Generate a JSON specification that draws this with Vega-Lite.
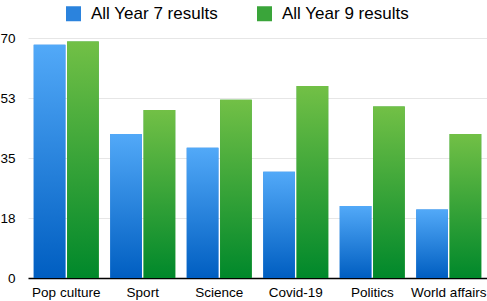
{
  "$schema": "https://vega.github.io/schema/vega-lite/v6.json",
  "autosize": {"type": "none"},
  "width": 459,
  "height": 240,
  "padding": {"left": 28, "top": 38, "right": 0, "bottom": 23},
  "background": "white",
  "config": {
    "view": {"stroke": null},
    "font": "Liberation Sans"
  },
  "data": {
    "values": [
      {"category": "Pop culture", "series": "All Year 7 results", "value": 68},
      {"category": "Pop culture", "series": "All Year 9 results", "value": 69},
      {"category": "Sport", "series": "All Year 7 results", "value": 42},
      {"category": "Sport", "series": "All Year 9 results", "value": 49},
      {"category": "Science", "series": "All Year 7 results", "value": 38},
      {"category": "Science", "series": "All Year 9 results", "value": 52},
      {"category": "Covid-19", "series": "All Year 7 results", "value": 31},
      {"category": "Covid-19", "series": "All Year 9 results", "value": 56},
      {"category": "Politics", "series": "All Year 7 results", "value": 21},
      {"category": "Politics", "series": "All Year 9 results", "value": 50},
      {"category": "World affairs", "series": "All Year 7 results", "value": 20},
      {"category": "World affairs", "series": "All Year 9 results", "value": 42}
    ]
  },
  "encoding": {
    "x": {
      "field": "category", "type": "nominal", "sort": null,
      "scale": {"paddingInner": 0.15, "paddingOuter": 0.075},
      "axis": {"title": null, "labelAngle": 0, "ticks": false, "tickSize": 0, "grid": false,
               "domainColor": "#000000", "domainWidth": 1.5, "labelFontSize": 13.5,
               "labelColor": "#000000", "labelPadding": 7}
    },
    "xOffset": {"field": "series", "type": "nominal", "scale": {"paddingInner": 0.05}},
    "y": {
      "field": "value", "type": "quantitative",
      "scale": {"domain": [0, 70], "nice": false},
      "axis": {"title": null, "values": [0, 17.5, 35, 52.5, 70], "format": ".0f",
               "domain": false, "ticks": false, "tickSize": 0, "gridColor": "#e6e6e6",
               "labelFontSize": 13.5, "labelColor": "#000000", "labelPadding": 13}
    }
  },
  "layer": [
    {
      "mark": {"type": "bar"},
      "encoding": {
        "color": {
          "field": "series", "type": "nominal",
          "scale": {"range": ["#2b83dd", "#3aa53a"]},
          "legend": {"title": null, "orient": "none", "legendX": 37, "legendY": -33,
                     "direction": "horizontal", "symbolType": "square", "symbolSize": 225,
                     "symbolStrokeWidth": 0, "labelFontSize": 17, "labelColor": "#000000",
                     "labelOffset": 9, "columnPadding": 38, "padding": 0}
        }
      }
    },
    {
      "mark": {"type": "bar"},
      "encoding": {
        "color": {
          "condition": {
            "test": "datum.series === 'All Year 7 results'",
            "value": {"gradient": "linear", "x1": 0, "y1": 0, "x2": 0, "y2": 1,
                      "stops": [{"offset": 0, "color": "#52a9f8"}, {"offset": 1, "color": "#005ec1"}]}
          },
          "value": {"gradient": "linear", "x1": 0, "y1": 0, "x2": 0, "y2": 1,
                    "stops": [{"offset": 0, "color": "#72c046"}, {"offset": 1, "color": "#00882b"}]}
        }
      }
    }
  ]
}
